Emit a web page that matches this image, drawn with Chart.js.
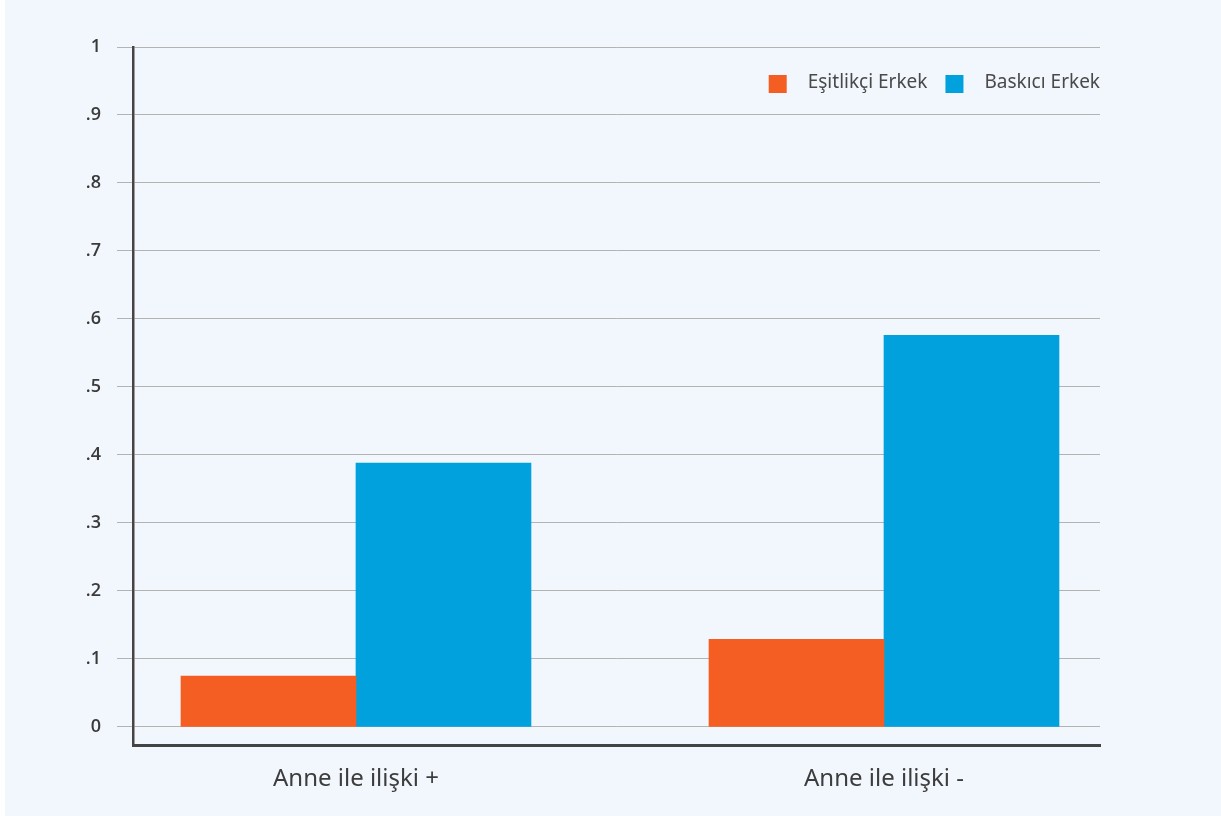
<!DOCTYPE html>
<html>
<head>
<meta charset="utf-8">
<script src="https://cdn.jsdelivr.net/npm/chart.js@4"></script>
<style>
  html, body { margin: 0; padding: 0; background: #ffffff; }
  #panel { position: absolute; left: 5px; top: 0; width: 1216px; height: 816px; background: #f2f7fd; }
</style>
</head>
<body>
<div id="panel"><canvas id="chart" width="1216" height="816"></canvas></div>
<script>
// data
const categories = ['Anne ile ilişki +', 'Anne ile ilişki -']
const seriesNames = ['Eşitlikçi Erkek', 'Baskıcı Erkek']
const egalitarian = [0.075, 0.129]
const oppressive = [0.388, 0.576]
const yTicks = [0, 0.1, 0.2, 0.3, 0.4, 0.5, 0.6, 0.7, 0.8, 0.9, 1]
const yTickLabels = ['0', '.1', '.2', '.3', '.4', '.5', '.6', '.7', '.8', '.9', '1']

const ORANGE = '#f55e22'
const BLUE = '#00a1dc'

// legend drawn inside the plot, top right
const insideLegend = {
    id: 'insideLegend',
    afterDraw(chart) {
        const ctx = chart.ctx
        const area = chart.chartArea
        ctx.save()
        ctx.font = '19px "Noto Sans"'
        ctx.textBaseline = 'middle'
        let right = area.right
        const top = area.top + 28
        const items = chart.data.datasets.slice().reverse()
        items.forEach(ds => {
            const w = ctx.measureText(ds.label).width
            const textX = right - w
            const boxX = textX - 21 - 18
            ctx.fillStyle = ds.backgroundColor
            ctx.fillRect(boxX, top, 18, 18)
            ctx.fillStyle = '#4a4a4a'
            ctx.fillText(ds.label, textX, top + 8)
            right = boxX - 18
        })
        ctx.restore()
    }
}

const toPoints = values => values.map((v, i) => ({ x: i + 1, y: v }))

new Chart(document.getElementById('chart').getContext('2d'), {
    type: 'bar',
    data: {
        datasets: [{
            label: seriesNames[0],
            data: toPoints(egalitarian),
            backgroundColor: ORANGE,
            barThickness: 175
        }, {
            label: seriesNames[1],
            data: toPoints(oppressive),
            backgroundColor: BLUE,
            barThickness: 175
        }]
    },
    options: {
        responsive: false,
        animation: false,
        layout: {
            padding: { left: 0, right: 121, top: 47, bottom: 21 }
        },
        plugins: {
            legend: { display: false },
            tooltip: { enabled: false }
        },
        scales: {
            x: {
                type: 'linear',
                offset: false,
                min: 0.5777,
                max: 2.4091,
                afterBuildTicks: scale => { scale.ticks = categories.map((c, i) => ({ value: i + 1 })) },
                afterFit: scale => { scale.height = 50 },
                grid: { display: false },
                border: { display: true, color: '#444444', width: 3 },
                ticks: {
                    autoSkip: false,
                    maxRotation: 0,
                    padding: 12,
                    color: '#3d3d3d',
                    font: { family: '"Noto Sans"', size: 24 },
                    callback: value => categories[Math.round(value) - 1]
                }
            },
            y: {
                min: -0.0265,
                max: 1,
                afterBuildTicks: scale => { scale.ticks = yTicks.map(v => ({ value: v })) },
                afterFit: scale => { scale.width = 128 },
                grid: {
                    color: '#b3b3b3',
                    lineWidth: 1,
                    drawTicks: true,
                    tickLength: 16
                },
                border: { display: true, color: '#444444', width: 2.5 },
                ticks: {
                    padding: 16,
                    color: '#3a3a3a',
                    font: { family: '"Open Sans"', size: 18, weight: '600' },
                    callback: value => yTickLabels[yTicks.findIndex(t => Math.abs(t - value) < 1e-6)]
                }
            }
        }
    },
    plugins: [insideLegend]
})
</script>
</body>
</html>
